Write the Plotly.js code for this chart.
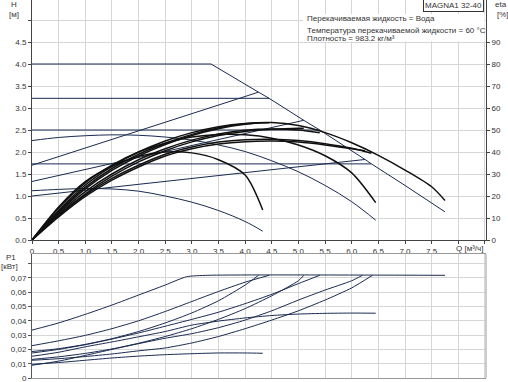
<!DOCTYPE html>
<html><head><meta charset="utf-8">
<script src="https://cdn.plot.ly/plotly-3.0.1.min.js"></script>
<style>html,body{margin:0;padding:0;background:#fff}#chart{width:508px;height:382px}</style>
</head><body><div id="chart"></div>
<script>
// ---------- axis tick data ----------
const qTicks = [0,0.5,1,1.5,2,2.5,3,3.5,4,4.5,5,5.5,6,6.5,7,7.5,8,8.5];
const qTickText = ['0','0.5','1.0','1.5','2.0','2.5','3.0','3.5','4.0','4.5','5.0','5.5','6.0','6.5','7.0','7.5','',''];
const hTicks = [0,0.5,1,1.5,2,2.5,3,3.5,4,4.5,5];
const hTickText = ['0.0','0.5','1.0','1.5','2.0','2.5','3.0','3.5','4.0','4.5',''];
const etaTicks = [0,10,20,30,40,50,60,70,80,90];
const pTicks = [0,0.01,0.02,0.03,0.04,0.05,0.06,0.07,0.08];
const pTickText = ['0','0,01','0,02','0,03','0,04','0,05','0,06','0,07',''];

// ---------- H curves [м] ----------
const maxQ = [0, 3.36, 4.25, 4.45, 5.1, 5.4, 6.25, 6.37, 7.0, 7.75];
const maxH = [4.0, 4.0, 3.36, 3.22, 2.72, 2.5, 1.83, 1.73, 1.24, 0.64];
const cpLevels = [3.22, 2.5, 1.73];
const cpEndQ = [4.45, 5.4, 6.37];
const ppStartH = [1.7, 1.33, 1.0];
const ppEndQ = [4.25, 5.1, 6.25];
const ppEndH = [3.36, 2.72, 1.83];
const sp1Q = [0,0.5,1,1.5,2,2.5,3,3.5,4,4.33];
const sp1H = [1.12,1.15,1.17,1.16,1.11,1.0,0.86,0.67,0.42,0.2];
const sp2Q = [0,0.5,1,1.5,2,2.5,3,3.5,4,4.5,5,5.5,6,6.45];
const sp2H = [2.26,2.33,2.37,2.39,2.38,2.34,2.27,2.16,2.01,1.8,1.55,1.24,0.87,0.45];

// ---------- eta curves [%] ----------
const etaMaxQ = [0,0.5,1,1.5,2,2.5,3,3.5,4,4.5,5,5.5,6,6.5,7,7.5,7.75];
const etaMax  = [0,13.5,25,33.5,40,45,48.8,51.5,53,53.4,52,48.8,44.2,38.5,31.8,24.2,18];
const etaCP322Q = [0,0.5,1,1.5,2,2.5,3,3.5,4,4.45];
const etaCP322  = [0,13,24,32.5,39,44,48,51,52.8,53.3];
const etaPP1Q = [0,0.5,1,1.5,2,2.5,3,3.5,4,4.25];
const etaPP1  = [0,12.5,23.2,31.6,38.2,43.4,47.5,50.6,52.6,53.2];
const etaCP25Q = [0,0.5,1,1.5,2,2.5,3,3.5,4,4.5,5,5.4];
const etaCP25  = [0,12,22,30,36.5,41.5,45.4,48.2,49.9,50.4,50,48.8];
const etaPP2Q = [0,0.5,1,1.5,2,2.5,3,3.5,4,4.5,5,5.1];
const etaPP2  = [0,11.5,21,29,35.5,40.6,44.6,47.5,49.3,50.3,50.8,50.8];
const etaCP173Q = [0,0.5,1,1.5,2,2.5,3,3.5,4,4.5,5,5.5,6,6.37];
const etaCP173  = [0,11,20.5,28,34,39,42.3,44.5,45.6,45.8,45.2,43.8,41.7,39.4];
const etaPP3Q = [0,0.5,1,1.5,2,2.5,3,3.5,4,4.5,5,5.5,6,6.25];
const etaPP3  = [0,10.5,19.8,27.2,33.2,38.2,41.5,43.6,44.7,45,44.5,43.2,41.5,40.6];
const etaSp1Q = [0,0.5,1,1.5,2,2.5,3,3.5,4,4.33];
const etaSp1  = [0,15,26.5,33.5,38,40,39.6,36.5,29.5,13.6];
const etaSp2Q = [0,0.5,1,1.5,2,2.5,3,3.5,4,4.5,5,5.5,6,6.45];
const etaSp2  = [0,14.5,26,34,40,44,46.8,48,47.8,46.3,43.2,38.3,30.5,17];

// ---------- P1 curves [кВт] ----------
const pCP40Q = [0,0.5,1,1.5,2,2.5,2.9,3.3,7.75];
const pCP40  = [0.0335,0.0385,0.0445,0.051,0.058,0.065,0.0708,0.0718,0.0718];
const pCP322Q = [0,0.5,1,1.5,2,2.5,3,3.5,4,4.45];
const pCP322  = [0.0226,0.026,0.0298,0.0345,0.040,0.0465,0.0535,0.0605,0.067,0.0718];
const pPP1Q = [0,0.5,1,1.5,2,2.5,3,3.5,4,4.25];
const pPP1  = [0.0185,0.0205,0.0235,0.0275,0.0325,0.0385,0.0455,0.054,0.065,0.0718];
const pCP25Q = [0,0.5,1,1.5,2,2.5,3,3.5,4,4.5,5,5.4];
const pCP25  = [0.0175,0.020,0.0233,0.0272,0.0315,0.0362,0.041,0.046,0.052,0.0585,0.066,0.0718];
const pPP2Q = [0,0.5,1,1.5,2,2.5,3,3.5,4,4.5,5,5.1];
const pPP2  = [0.013,0.0148,0.0172,0.0203,0.0243,0.029,0.0345,0.041,0.0485,0.0575,0.068,0.0718];
const pCP173Q = [0,0.5,1,1.5,2,2.5,3,3.5,4,4.5,5,5.5,6,6.39];
const pCP173  = [0.0124,0.0135,0.015,0.0168,0.019,0.021,0.0245,0.029,0.0345,0.0405,0.047,0.0545,0.063,0.0718];
const pPP3Q = [0,0.5,1,1.5,2,2.5,3,3.5,4,4.5,5,5.5,6,6.2];
const pPP3  = [0.0089,0.0118,0.0158,0.020,0.024,0.0278,0.031,0.0352,0.0405,0.047,0.0545,0.0615,0.068,0.0718];
const pSp1Q = [0,0.5,1,1.5,2,2.5,3,3.5,4,4.33];
const pSp1  = [0.0096,0.0108,0.0124,0.014,0.0153,0.0163,0.017,0.0175,0.0175,0.0173];
const pSp2Q = [0,0.5,1,1.5,2,2.5,3,3.5,4,4.5,5,5.5,6,6.45];
const pSp2  = [0.0152,0.018,0.0218,0.0252,0.0288,0.0325,0.037,0.0398,0.042,0.0437,0.0447,0.0452,0.0454,0.0453];

// ---------- build traces ----------
const thinC = '#1a2a50', thickC = '#111111';
const traces = [];
function hLine(x, y, shape){ traces.push({x:x, y:y, type:'scatter', mode:'lines', xaxis:'x', yaxis:'y', hoverinfo:'skip', line:{color:thinC, width:1.0, shape:shape||'linear'}}); }
function etaLine(x, y){ traces.push({x:x, y:y, type:'scatter', mode:'lines', xaxis:'x', yaxis:'y2', hoverinfo:'skip', line:{color:thickC, width:1.5, shape:'spline', smoothing:0.8}}); }
function pLine(x, y){ traces.push({x:x, y:y, type:'scatter', mode:'lines', xaxis:'x2', yaxis:'y3', hoverinfo:'skip', line:{color:thinC, width:1.0, shape:'spline', smoothing:0.6}}); }

hLine(maxQ, maxH);
cpLevels.forEach((h,i)=>hLine([0, cpEndQ[i]], [h, h]));
ppStartH.forEach((h,i)=>hLine([0, ppEndQ[i]], [h, ppEndH[i]]));
hLine(sp1Q, sp1H, 'spline');
hLine(sp2Q, sp2H, 'spline');

etaLine(etaMaxQ, etaMax);
etaLine(etaCP322Q, etaCP322);
etaLine(etaPP1Q, etaPP1);
etaLine(etaCP25Q, etaCP25);
etaLine(etaPP2Q, etaPP2);
etaLine(etaCP173Q, etaCP173);
etaLine(etaPP3Q, etaPP3);
etaLine(etaSp1Q, etaSp1);
etaLine(etaSp2Q, etaSp2);

pLine(pCP40Q, pCP40);
pLine(pCP322Q, pCP322);
pLine(pPP1Q, pPP1);
pLine(pCP25Q, pCP25);
pLine(pPP2Q, pPP2);
pLine(pCP173Q, pCP173);
pLine(pPP3Q, pPP3);
pLine(pSp1Q, pSp1);
pLine(pSp2Q, pSp2);

// ---------- layout ----------
const gridC = '#d6d6d6';
const fnt = {family:'Liberation Sans, Arial, sans-serif', size:8, color:'#333'};
const plotH = 378;
const topDom = [(plotH-240)/plotH, 1], botDom = [0, (plotH-254)/plotH];
const layout = {
  width:508, height:382,
  margin:{l:32, r:22, t:0, b:4},
  paper_bgcolor:'#ffffff', plot_bgcolor:'#ffffff',
  showlegend:false,
  font:fnt,
  xaxis:{domain:[0,1], anchor:'y', range:[0,8.52], tickmode:'array', tickvals:qTicks, ticktext:qTickText,
    showgrid:true, gridcolor:gridC, gridwidth:1, zeroline:false, showline:true, linecolor:'#444', linewidth:1,
    ticks:'outside', ticklen:3, tickcolor:'#444', tickfont:fnt, ticklabeloverflow:'allow'},
  yaxis:{domain:topDom, anchor:'x', range:[0,5.4545], tickmode:'array', tickvals:hTicks, ticktext:hTickText,
    showgrid:true, gridcolor:gridC, gridwidth:1, zeroline:false, showline:true, linecolor:'#444', linewidth:1,
    ticks:'outside', ticklen:3, tickcolor:'#444', tickfont:fnt, ticklabeloverflow:'allow'},
  yaxis2:{overlaying:'y', side:'right', anchor:'x', range:[0,109.09], tickmode:'array', tickvals:etaTicks,
    showgrid:false, zeroline:false, showline:true, linecolor:'#444', linewidth:1,
    ticks:'outside', ticklen:3, tickcolor:'#444', tickfont:fnt, ticklabeloverflow:'allow'},
  xaxis2:{domain:[0,1], anchor:'y3', range:[0,8.52], tickmode:'array', tickvals:qTicks, showticklabels:false,
    showgrid:true, gridcolor:gridC, gridwidth:1, zeroline:false, showline:true, mirror:true, linecolor:'#999', linewidth:1, ticks:''},
  yaxis3:{domain:botDom, anchor:'x2', range:[0,0.0867], tickmode:'array', tickvals:pTicks, ticktext:pTickText,
    showgrid:true, gridcolor:gridC, gridwidth:1, zeroline:false, showline:true, linecolor:'#555', linewidth:1,
    ticks:'outside', ticklen:3, tickcolor:'#555', tickfont:fnt, ticklabeloverflow:'allow'},
  shapes:[
    {type:'rect', xref:'paper', yref:'paper', x0:0.597, x1:0.997, y0:(plotH-41.5)/plotH, y1:(plotH-14)/plotH, fillcolor:'#ffffff', line:{width:0}, layer:'above'},
    {type:'line', xref:'paper', yref:'paper', x0:1, x1:1, y0:0, y1:botDom[1], line:{color:'#999', width:1}}
  ],
  annotations:[
    {text:'MAGNA1 32-40', xref:'paper', yref:'paper', x:0.9295, y:(plotH-5.5)/plotH, xanchor:'center', yanchor:'middle', showarrow:false,
      bordercolor:'#333', borderwidth:1, borderpad:1, bgcolor:'#ffffff', font:fnt},
    {text:'Перекачиваемая жидкость = Вода', xref:'paper', yref:'paper', x:0.6013, y:(plotH-19)/plotH, xanchor:'left', yanchor:'middle', showarrow:false, font:fnt},
    {text:'Температура перекачиваемой жидкости = 60 °C', xref:'paper', yref:'paper', x:0.6013, y:(plotH-30)/plotH, xanchor:'left', yanchor:'middle', showarrow:false, font:fnt},
    {text:'Плотность = 983.2 кг/м³', xref:'paper', yref:'paper', x:0.6013, y:(plotH-39)/plotH, xanchor:'left', yanchor:'middle', showarrow:false, font:fnt},
    {text:'H', xref:'paper', yref:'paper', x:-0.0396, y:(plotH-4)/plotH, xanchor:'center', yanchor:'middle', showarrow:false, font:fnt},
    {text:'[м]', xref:'paper', yref:'paper', x:-0.0396, y:(plotH-14)/plotH, xanchor:'center', yanchor:'middle', showarrow:false, font:fnt},
    {text:'eta', xref:'paper', yref:'paper', x:1.033, y:(plotH-4)/plotH, xanchor:'center', yanchor:'middle', showarrow:false, font:fnt},
    {text:'[%]', xref:'paper', yref:'paper', x:1.0374, y:(plotH-14)/plotH, xanchor:'center', yanchor:'middle', showarrow:false, font:fnt},
    {text:'P1', xref:'paper', yref:'paper', x:-0.0463, y:(plotH-257)/plotH, xanchor:'center', yanchor:'middle', showarrow:false, font:fnt},
    {text:'[кВт]', xref:'paper', yref:'paper', x:-0.0485, y:(plotH-266)/plotH, xanchor:'center', yanchor:'middle', showarrow:false, font:fnt},
    {text:'Q [м³/ч]', xref:'paper', yref:'paper', x:0.9626, y:(plotH-248)/plotH, xanchor:'center', yanchor:'middle', showarrow:false, font:fnt}
  ]
};

Plotly.newPlot('chart', traces, layout, {displayModeBar:false, staticPlot:true});
</script>
</body></html>
